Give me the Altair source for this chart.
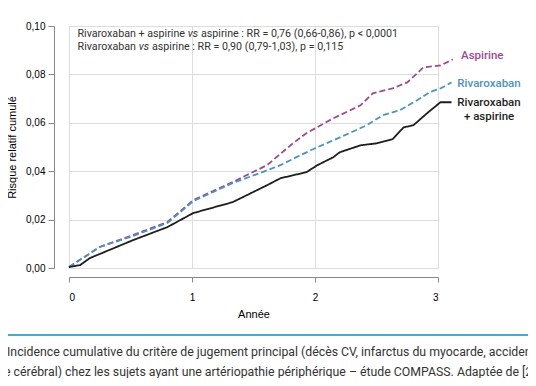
import altair as alt
import pandas as pd

# ---- data ----
years_asp = [0, 0.25, 0.52, 0.80, 1.01, 1.33, 1.61, 1.82, 1.93, 2.15, 2.37, 2.47, 2.63, 2.75, 2.83, 2.88, 3.02, 3.12]
risk_asp = [0.0004, 0.0087, 0.0136, 0.0190, 0.0280, 0.0355, 0.0425, 0.0515, 0.0557, 0.0619, 0.0672, 0.0722, 0.0742, 0.0767, 0.0804, 0.0829, 0.0837, 0.0862]

years_riva = [0, 0.25, 0.52, 0.80, 1.01, 1.33, 1.55, 1.72, 1.88, 2.02, 2.15, 2.28, 2.42, 2.55, 2.69, 2.83, 2.93, 3.02, 3.11]
risk_riva = [0.0004, 0.0087, 0.0132, 0.0186, 0.0276, 0.0351, 0.0392, 0.0425, 0.0466, 0.0499, 0.0528, 0.0557, 0.0590, 0.0631, 0.0652, 0.0693, 0.0726, 0.0742, 0.0767]

years_combo = [0, 0.09, 0.17, 0.52, 0.80, 1.01, 1.33, 1.61, 1.72, 1.93, 2.02, 2.15, 2.20, 2.37, 2.50, 2.63, 2.72, 2.80, 2.91, 3.02, 3.11]
risk_combo = [0.0004, 0.0012, 0.0041, 0.0115, 0.0169, 0.0227, 0.0272, 0.0342, 0.0371, 0.0396, 0.0425, 0.0458, 0.0478, 0.0507, 0.0515, 0.0532, 0.0581, 0.0590, 0.0639, 0.0685, 0.0685]

series_names = ["Aspirine", "Rivaroxaban", "Rivaroxaban + aspirine"]
series_colors = ["#9c4a96", "#4d93c0", "#1e1e1e"]
series_dash = [[6, 3], [6, 3], [1, 0]]

y_ticks = [0, 0.02, 0.04, 0.06, 0.08, 0.10]
x_ticks = [0, 1, 2, 3]

label_texts = ["Aspirine", "Rivaroxaban", "Rivaroxaban", "+ aspirine"]
label_series = ["Aspirine", "Rivaroxaban", "Rivaroxaban + aspirine", "Rivaroxaban + aspirine"]
label_x = [3.36, 3.415, 3.415, 3.415]
label_y = [0.0878, 0.0762, 0.0680, 0.0622]

# annotation lines split around the italic "vs"
annot_before = ["Rivaroxaban + aspirine", "Rivaroxaban"]
annot_vs = "vs"
annot_after = ["aspirine : RR = 0,76 (0,66-0,86), p < 0,0001",
               "aspirine : RR = 0,90 (0,79-1,03), p = 0,115"]
caption_lines = [
    ": Incidence cumulative du critère de jugement principal (décès CV, infarctus du myocarde, accident vasculaire",
    "re cérébral) chez les sujets ayant une artériopathie périphérique – étude COMPASS. Adaptée de [24].",
]

FONT = "Roboto"
TXT = "#333333"

rows = []
for name, xs, ys in [(series_names[0], years_asp, risk_asp),
                     (series_names[1], years_riva, risk_riva),
                     (series_names[2], years_combo, risk_combo)]:
    for i, (a, b) in enumerate(zip(xs, ys)):
        rows.append({"serie": name, "annee": a, "risque": b, "ordre": i})
df = pd.DataFrame(rows)

labels_df = pd.DataFrame({"texte": label_texts, "serie": label_series, "annee": label_x, "risque": label_y})

xscale = alt.Scale(domain=[0, 3], nice=False, zero=False)
yscale = alt.Scale(domain=[0, 0.10], nice=False)
cscale = alt.Scale(domain=series_names, range=series_colors)

lines = alt.Chart(df).mark_line(strokeWidth=1.8, interpolate="linear").encode(
    x=alt.X("annee:Q", scale=xscale,
            axis=alt.Axis(values=x_ticks, title="Année", offset=9, format="d",
                          tickSize=5, labelPadding=10, titlePadding=6, titleFontWeight="normal")),
    y=alt.Y("risque:Q", scale=yscale,
            axis=alt.Axis(values=y_ticks, title="Risque relatif cumulé", offset=15,
                          labelExpr="replace(format(datum.value, '.2f'), '.', ',')",
                          tickSize=6, labelPadding=3, titlePadding=8, titleFontWeight="normal")),
    color=alt.Color("serie:N", scale=cscale, legend=None),
    strokeDash=alt.StrokeDash("serie:N", scale=alt.Scale(domain=series_names, range=series_dash), legend=None),
    order="ordre:Q",
)

labels = alt.Chart(labels_df).mark_text(align="center", baseline="middle", font=FONT,
                                         fontSize=11.5, fontWeight=500).encode(
    x=alt.X("annee:Q", scale=xscale),
    y=alt.Y("risque:Q", scale=yscale),
    text="texte:N",
    color=alt.Color("serie:N", scale=cscale, legend=None),
)

one = pd.DataFrame({"a": [0]})


def text_line(txt, x, y, size, align="left", style="normal"):
    return alt.Chart(one).mark_text(align=align, baseline="middle", font=FONT, fontStyle=style,
                                     fontSize=size, color=TXT, text=txt).encode(
        x=alt.value(x), y=alt.value(y))


AS = 10.7
annots = [
    text_line(annot_before[0], 116, 8, AS, align="right"),
    text_line(annot_vs, 118.7, 8, AS, style="italic"),
    text_line(annot_after[0], 132, 8, AS),
    text_line(annot_before[1], 67, 21, AS, align="right"),
    text_line(annot_vs, 69.7, 21, AS, style="italic"),
    text_line(annot_after[1], 83, 21, AS),
]
caption = [text_line(caption_lines[0], -68, 326, 12.3), text_line(caption_lines[1], -69, 346, 12.3)]

sep = alt.Chart(one).mark_rule(color="#4aa8cc", strokeWidth=2).encode(
    x=alt.value(-61), x2=alt.value(459), y=alt.value(309)
)

chart = alt.layer(lines, labels, *annots, *caption, sep).properties(
    width=369, height=242,
    padding={"left": 61, "top": 18, "right": 90, "bottom": 110},
    autosize=alt.AutoSizeParams(type="none"),
).configure_view(stroke=None).configure_axis(
    grid=False, domainColor="#3a3a3a", domainWidth=1.5, tickColor="#3a3a3a", tickWidth=1.5,
    labelFont=FONT, labelFontSize=11, labelColor=TXT,
    titleFont=FONT, titleFontSize=11, titleColor=TXT, titleFontWeight="normal",
).configure(background="white")

chart.save("out.html", embed_options={"renderer": "svg", "actions": False})
